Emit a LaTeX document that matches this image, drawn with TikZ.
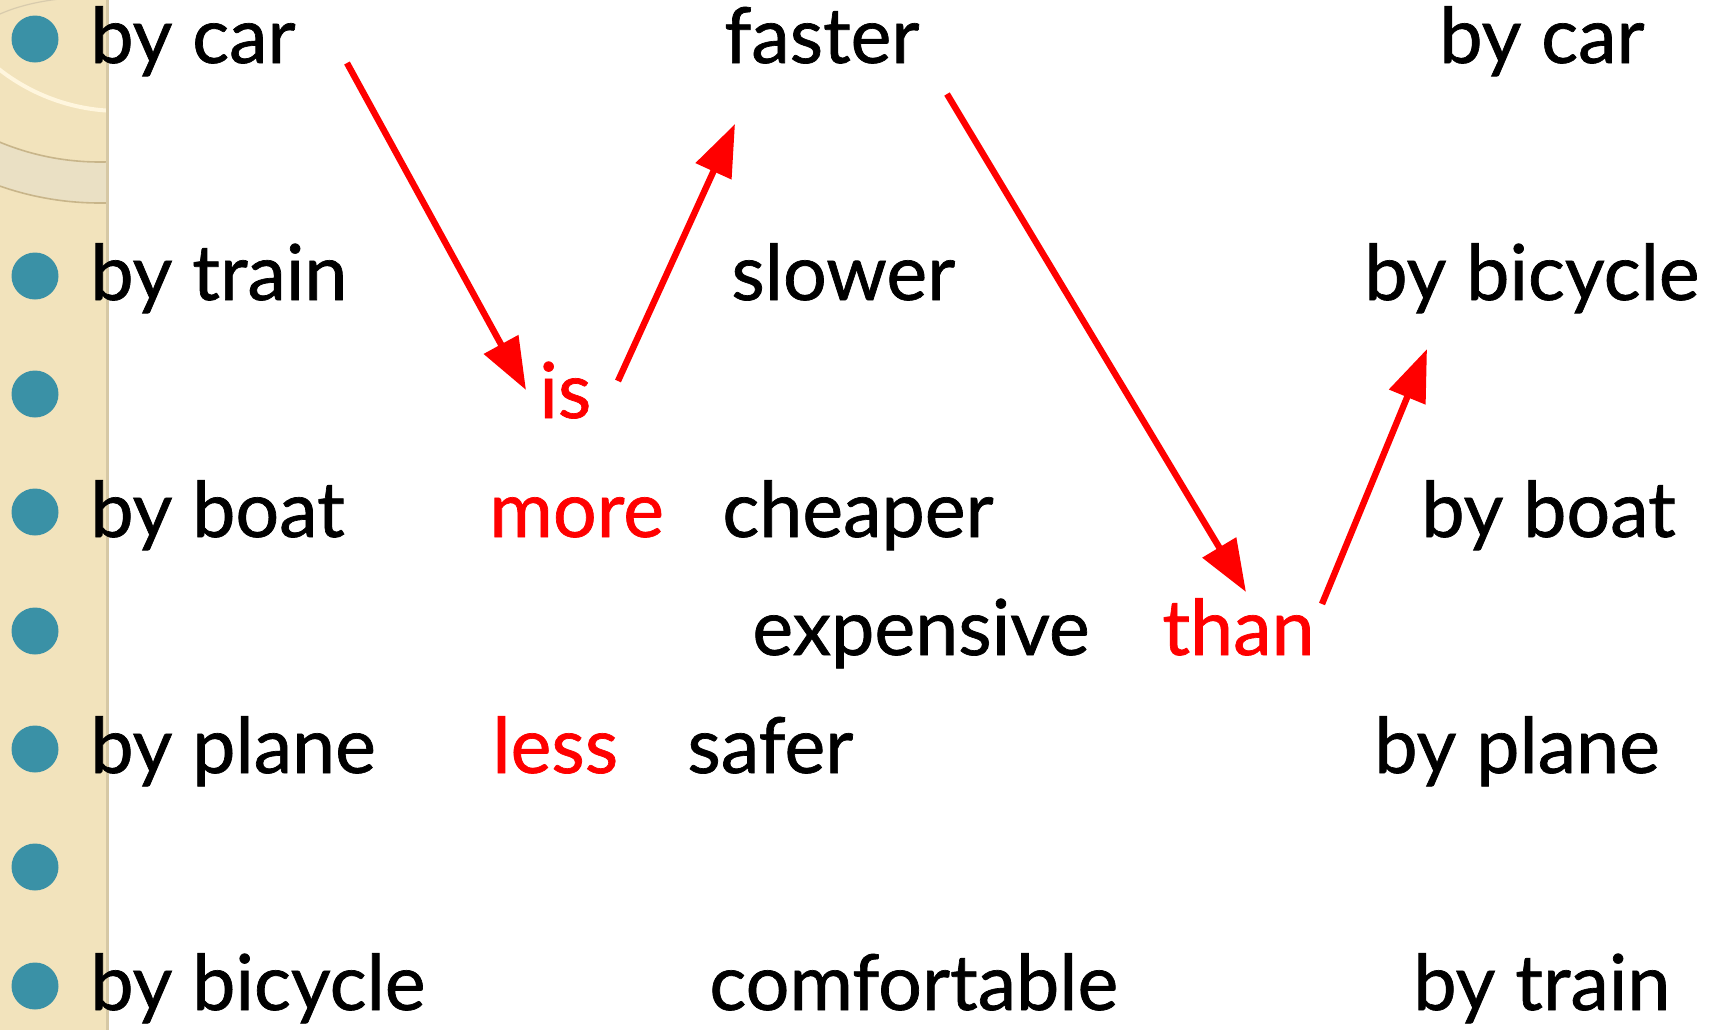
\documentclass[tikz,border=0pt]{standalone}
\usepackage{fontspec}
\setmainfont{Lato}[FakeBold=0.9]
\usetikzlibrary{arrows.meta}
\definecolor{stripcol}{RGB}{242,227,188}
\definecolor{bandcol}{RGB}{234,224,196}
\definecolor{edgecol}{RGB}{200,181,138}
\definecolor{creamcol}{RGB}{255,246,222}
\definecolor{bulletcol}{RGB}{58,145,166}
\definecolor{shadowcol}{RGB}{214,200,165}
\tikzset{
  word/.style={anchor=base west, inner sep=0pt, font=\fontsize{38.6}{45}\selectfont, text=black},
  redword/.style={word, text=red},
  bullet/.style={circle, fill=bulletcol, minimum size=23.5pt, inner sep=0pt},
  redarrow/.style={draw=red, line width=3.2pt, -{Triangle[length=26pt,width=19pt]}}
}
\begin{document}
\begin{tikzpicture}[x=0.5pt,y=-0.5pt]
\useasboundingbox (0,0) rectangle (1715,1030);
\fill[white] (0,0) rectangle (1715,1030);
% left strip
\fill[stripcol] (0,0) rectangle (108,1030);
\begin{scope}
  \clip (0,0) rectangle (108,1030);
  \fill[bandcol, even odd rule] (100,-100) circle[radius=303] (100,-100) circle[radius=262];
  \draw[edgecol, line width=0.8pt] (100,-100) circle[radius=262];
  \draw[edgecol, line width=0.8pt] (100,-100) circle[radius=303];
  \draw[creamcol, line width=2pt] (120,-85) circle[radius=196];
  \draw[edgecol!70, line width=0.6pt] (0,14) .. controls (20,5) and (45,0) .. (70,-2);
\end{scope}
\draw[shadowcol, line width=1.5pt] (107,0) -- (107,1030);
% bullets
\node[bullet] (b0) at (35,39) {};
\node[bullet] (b2) at (35,276) {};
\node[bullet] (b3) at (35,394) {};
\node[bullet] (b4) at (35,512) {};
\node[bullet] (b5) at (35,631) {};
\node[bullet] (b6) at (35,749) {};
\node[bullet] (b7) at (35,867) {};
\node[bullet] (b8) at (35,986) {};
% left column
\node[word] (lcar) at (90,63) {by car};
\node[word] (ltrain) at (90,300) {by train};
\node[word] (lboat) at (90,537) {by boat};
\node[word] (lplane) at (90,773) {by plane};
\node[word] (lbicycle) at (90,1010) {by bicycle};
% middle
\node[redword] (is) at (539,418) {is};
\node[redword] (more) at (489,537) {more};
\node[redword] (less) at (492,773) {less};
\node[word] (faster) at (724,63) {faster};
\node[word] (slower) at (731,300) {slower};
\node[word] (cheaper) at (722,537) {cheaper};
\node[word] (expensive) at (752,655) {expensive};
\node[word] (safer) at (687,773) {safer};
\node[word] (comfortable) at (709,1010) {comfortable};
\node[redword] (than) at (1162,655) {than};
% right column
\node[word] (rcar) at (1439,63) {by car};
\node[word] (rbicycle) at (1364,300) {by bicycle};
\node[word] (rboat) at (1421,537) {by boat};
\node[word] (rplane) at (1374,773) {by plane};
\node[word] (rtrain) at (1413,1010) {by train};
% arrow ends
\coordinate (a1s) at (347,63);
\coordinate (a1e) at (526,390);
\coordinate (a2s) at (618,381);
\coordinate (a2e) at (735,124);
\coordinate (a3s) at (947,94);
\coordinate (a3e) at (1246,592);
\coordinate (a4s) at (1322,604);
\coordinate (a4e) at (1427,349);
\draw[redarrow] (a1s) -- (a1e);
\draw[redarrow] (a2s) -- (a2e);
\draw[redarrow] (a3s) -- (a3e);
\draw[redarrow] (a4s) -- (a4e);
\end{tikzpicture}
\end{document}
